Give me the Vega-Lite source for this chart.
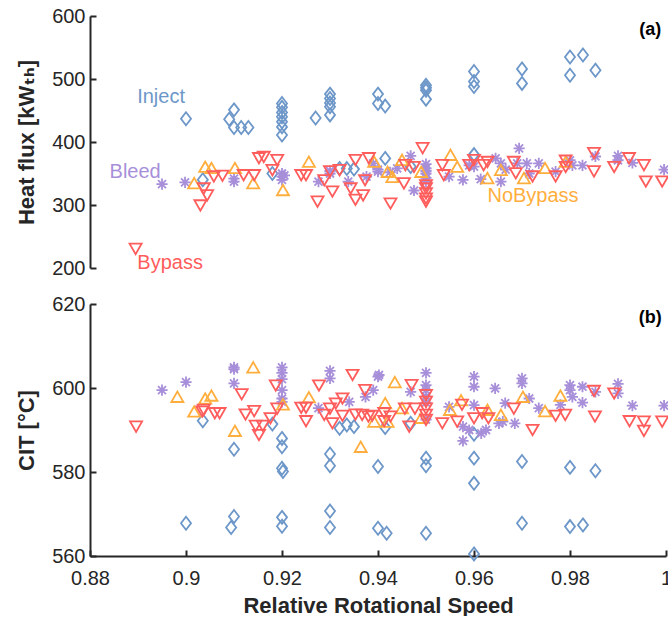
{
  "$schema": "https://vega.github.io/schema/vega-lite/v6.json",
  "background": "white",
  "padding": {"left": 15, "top": 6, "right": 0, "bottom": 0},
  "bounds": "flush",
  "spacing": 36,
  "config": {
    "view": {"stroke": null},
    "font": "Liberation Sans",
    "axis": {
      "grid": false,
      "domainColor": "#262626",
      "domainWidth": 2,
      "tickColor": "#262626",
      "tickWidth": 2,
      "tickSize": -6,
      "labelPadding": 11,
      "labelFlush": false,
      "labelFont": "Liberation Sans",
      "labelFontSize": 20,
      "labelColor": "#262626",
      "titleFont": "Liberation Sans, DejaVu Sans",
      "titleFontSize": 22,
      "titleFontWeight": "bold",
      "titleColor": "#262626"
    }
  },
  "datasets": {
    "hf": [
      {"speed": 0.90, "value": 437, "cfg": "Inject"},
      {"speed": 0.9035, "value": 340, "cfg": "Inject"},
      {"speed": 0.91, "value": 451, "cfg": "Inject"},
      {"speed": 0.909, "value": 436, "cfg": "Inject"},
      {"speed": 0.91, "value": 423, "cfg": "Inject"},
      {"speed": 0.9115, "value": 423, "cfg": "Inject"},
      {"speed": 0.913, "value": 423, "cfg": "Inject"},
      {"speed": 0.918, "value": 350, "cfg": "Inject"},
      {"speed": 0.92, "value": 461, "cfg": "Inject"},
      {"speed": 0.92, "value": 455, "cfg": "Inject"},
      {"speed": 0.92, "value": 447, "cfg": "Inject"},
      {"speed": 0.92, "value": 440, "cfg": "Inject"},
      {"speed": 0.92, "value": 432, "cfg": "Inject"},
      {"speed": 0.92, "value": 424, "cfg": "Inject"},
      {"speed": 0.92, "value": 411, "cfg": "Inject"},
      {"speed": 0.927, "value": 438, "cfg": "Inject"},
      {"speed": 0.93, "value": 476, "cfg": "Inject"},
      {"speed": 0.93, "value": 469, "cfg": "Inject"},
      {"speed": 0.93, "value": 462, "cfg": "Inject"},
      {"speed": 0.93, "value": 456, "cfg": "Inject"},
      {"speed": 0.93, "value": 443, "cfg": "Inject"},
      {"speed": 0.932, "value": 358, "cfg": "Inject"},
      {"speed": 0.9335, "value": 358, "cfg": "Inject"},
      {"speed": 0.935, "value": 357, "cfg": "Inject"},
      {"speed": 0.94, "value": 476, "cfg": "Inject"},
      {"speed": 0.94, "value": 461, "cfg": "Inject"},
      {"speed": 0.9415, "value": 457, "cfg": "Inject"},
      {"speed": 0.9415, "value": 374, "cfg": "Inject"},
      {"speed": 0.9468, "value": 361, "cfg": "Inject"},
      {"speed": 0.95, "value": 490, "cfg": "Inject"},
      {"speed": 0.95, "value": 486, "cfg": "Inject"},
      {"speed": 0.95, "value": 482, "cfg": "Inject"},
      {"speed": 0.95, "value": 468, "cfg": "Inject"},
      {"speed": 0.96, "value": 512, "cfg": "Inject"},
      {"speed": 0.96, "value": 496, "cfg": "Inject"},
      {"speed": 0.96, "value": 488, "cfg": "Inject"},
      {"speed": 0.96, "value": 380, "cfg": "Inject"},
      {"speed": 0.97, "value": 516, "cfg": "Inject"},
      {"speed": 0.97, "value": 493, "cfg": "Inject"},
      {"speed": 0.98, "value": 535, "cfg": "Inject"},
      {"speed": 0.98, "value": 506, "cfg": "Inject"},
      {"speed": 0.9827, "value": 538, "cfg": "Inject"},
      {"speed": 0.9853, "value": 514, "cfg": "Inject"},

      {"speed": 0.895, "value": 333, "cfg": "Bleed"},
      {"speed": 0.8998, "value": 336, "cfg": "Bleed"},
      {"speed": 0.91, "value": 342, "cfg": "Bleed"},
      {"speed": 0.91, "value": 337, "cfg": "Bleed"},
      {"speed": 0.92, "value": 350, "cfg": "Bleed"},
      {"speed": 0.92, "value": 345, "cfg": "Bleed"},
      {"speed": 0.92, "value": 340, "cfg": "Bleed"},
      {"speed": 0.9205, "value": 347, "cfg": "Bleed"},
      {"speed": 0.9276, "value": 337, "cfg": "Bleed"},
      {"speed": 0.93, "value": 350, "cfg": "Bleed"},
      {"speed": 0.93, "value": 354, "cfg": "Bleed"},
      {"speed": 0.9338, "value": 337, "cfg": "Bleed"},
      {"speed": 0.9376, "value": 345, "cfg": "Bleed"},
      {"speed": 0.939, "value": 366, "cfg": "Bleed"},
      {"speed": 0.94, "value": 353, "cfg": "Bleed"},
      {"speed": 0.94, "value": 356, "cfg": "Bleed"},
      {"speed": 0.9425, "value": 352, "cfg": "Bleed"},
      {"speed": 0.944, "value": 358, "cfg": "Bleed"},
      {"speed": 0.9468, "value": 378, "cfg": "Bleed"},
      {"speed": 0.9475, "value": 323, "cfg": "Bleed"},
      {"speed": 0.95, "value": 365, "cfg": "Bleed"},
      {"speed": 0.95, "value": 358, "cfg": "Bleed"},
      {"speed": 0.95, "value": 354, "cfg": "Bleed"},
      {"speed": 0.95, "value": 350, "cfg": "Bleed"},
      {"speed": 0.95, "value": 343, "cfg": "Bleed"},
      {"speed": 0.95, "value": 337, "cfg": "Bleed"},
      {"speed": 0.9548, "value": 345, "cfg": "Bleed"},
      {"speed": 0.9577, "value": 340, "cfg": "Bleed"},
      {"speed": 0.959, "value": 363, "cfg": "Bleed"},
      {"speed": 0.96, "value": 361, "cfg": "Bleed"},
      {"speed": 0.9614, "value": 341, "cfg": "Bleed"},
      {"speed": 0.9645, "value": 374, "cfg": "Bleed"},
      {"speed": 0.9656, "value": 366, "cfg": "Bleed"},
      {"speed": 0.9656, "value": 337, "cfg": "Bleed"},
      {"speed": 0.9666, "value": 356, "cfg": "Bleed"},
      {"speed": 0.9694, "value": 390, "cfg": "Bleed"},
      {"speed": 0.969, "value": 366, "cfg": "Bleed"},
      {"speed": 0.971, "value": 366, "cfg": "Bleed"},
      {"speed": 0.9715, "value": 350, "cfg": "Bleed"},
      {"speed": 0.9735, "value": 366, "cfg": "Bleed"},
      {"speed": 0.977, "value": 353, "cfg": "Bleed"},
      {"speed": 0.98, "value": 371, "cfg": "Bleed"},
      {"speed": 0.9805, "value": 363, "cfg": "Bleed"},
      {"speed": 0.9826, "value": 363, "cfg": "Bleed"},
      {"speed": 0.9853, "value": 377, "cfg": "Bleed"},
      {"speed": 0.99, "value": 378, "cfg": "Bleed"},
      {"speed": 0.99, "value": 371, "cfg": "Bleed"},
      {"speed": 0.993, "value": 367, "cfg": "Bleed"},
      {"speed": 0.9996, "value": 356, "cfg": "Bleed"},

      {"speed": 0.9017, "value": 332, "cfg": "NoBypass"},
      {"speed": 0.904, "value": 358, "cfg": "NoBypass"},
      {"speed": 0.9053, "value": 356, "cfg": "NoBypass"},
      {"speed": 0.9102, "value": 356, "cfg": "NoBypass"},
      {"speed": 0.914, "value": 332, "cfg": "NoBypass"},
      {"speed": 0.9202, "value": 321, "cfg": "NoBypass"},
      {"speed": 0.9256, "value": 366, "cfg": "NoBypass"},
      {"speed": 0.9392, "value": 366, "cfg": "NoBypass"},
      {"speed": 0.942, "value": 350, "cfg": "NoBypass"},
      {"speed": 0.943, "value": 342, "cfg": "NoBypass"},
      {"speed": 0.945, "value": 369, "cfg": "NoBypass"},
      {"speed": 0.949, "value": 350, "cfg": "NoBypass"},
      {"speed": 0.9551, "value": 377, "cfg": "NoBypass"},
      {"speed": 0.9565, "value": 358, "cfg": "NoBypass"},
      {"speed": 0.9628, "value": 340, "cfg": "NoBypass"},
      {"speed": 0.9656, "value": 353, "cfg": "NoBypass"},
      {"speed": 0.9704, "value": 340, "cfg": "NoBypass"},
      {"speed": 0.9748, "value": 356, "cfg": "NoBypass"},
      {"speed": 0.9791, "value": 366, "cfg": "NoBypass"},

      {"speed": 0.8895, "value": 233, "cfg": "Bypass"},
      {"speed": 0.903, "value": 302, "cfg": "Bypass"},
      {"speed": 0.9044, "value": 318, "cfg": "Bypass"},
      {"speed": 0.9037, "value": 329, "cfg": "Bypass"},
      {"speed": 0.9058, "value": 348, "cfg": "Bypass"},
      {"speed": 0.9076, "value": 349, "cfg": "Bypass"},
      {"speed": 0.912, "value": 350, "cfg": "Bypass"},
      {"speed": 0.9142, "value": 350, "cfg": "Bypass"},
      {"speed": 0.9152, "value": 377, "cfg": "Bypass"},
      {"speed": 0.9162, "value": 379, "cfg": "Bypass"},
      {"speed": 0.918, "value": 358, "cfg": "Bypass"},
      {"speed": 0.919, "value": 374, "cfg": "Bypass"},
      {"speed": 0.924, "value": 350, "cfg": "Bypass"},
      {"speed": 0.925, "value": 350, "cfg": "Bypass"},
      {"speed": 0.9274, "value": 308, "cfg": "Bypass"},
      {"speed": 0.9288, "value": 342, "cfg": "Bypass"},
      {"speed": 0.9305, "value": 324, "cfg": "Bypass"},
      {"speed": 0.93, "value": 356, "cfg": "Bypass"},
      {"speed": 0.932, "value": 358, "cfg": "Bypass"},
      {"speed": 0.9343, "value": 329, "cfg": "Bypass"},
      {"speed": 0.9353, "value": 311, "cfg": "Bypass"},
      {"speed": 0.9353, "value": 374, "cfg": "Bypass"},
      {"speed": 0.9369, "value": 318, "cfg": "Bypass"},
      {"speed": 0.9381, "value": 377, "cfg": "Bypass"},
      {"speed": 0.9373, "value": 342, "cfg": "Bypass"},
      {"speed": 0.9426, "value": 305, "cfg": "Bypass"},
      {"speed": 0.9454, "value": 337, "cfg": "Bypass"},
      {"speed": 0.9457, "value": 366, "cfg": "Bypass"},
      {"speed": 0.9475, "value": 363, "cfg": "Bypass"},
      {"speed": 0.9493, "value": 393, "cfg": "Bypass"},
      {"speed": 0.95, "value": 334, "cfg": "Bypass"},
      {"speed": 0.95, "value": 329, "cfg": "Bypass"},
      {"speed": 0.95, "value": 321, "cfg": "Bypass"},
      {"speed": 0.95, "value": 313, "cfg": "Bypass"},
      {"speed": 0.95, "value": 308, "cfg": "Bypass"},
      {"speed": 0.9534, "value": 366, "cfg": "Bypass"},
      {"speed": 0.9537, "value": 350, "cfg": "Bypass"},
      {"speed": 0.959, "value": 366, "cfg": "Bypass"},
      {"speed": 0.96, "value": 374, "cfg": "Bypass"},
      {"speed": 0.962, "value": 366, "cfg": "Bypass"},
      {"speed": 0.9628, "value": 371, "cfg": "Bypass"},
      {"speed": 0.9683, "value": 371, "cfg": "Bypass"},
      {"speed": 0.9687, "value": 353, "cfg": "Bypass"},
      {"speed": 0.9722, "value": 348, "cfg": "Bypass"},
      {"speed": 0.977, "value": 348, "cfg": "Bypass"},
      {"speed": 0.9791, "value": 373, "cfg": "Bypass"},
      {"speed": 0.9791, "value": 363, "cfg": "Bypass"},
      {"speed": 0.985, "value": 385, "cfg": "Bypass"},
      {"speed": 0.985, "value": 356, "cfg": "Bypass"},
      {"speed": 0.9892, "value": 363, "cfg": "Bypass"},
      {"speed": 0.9923, "value": 377, "cfg": "Bypass"},
      {"speed": 0.9954, "value": 366, "cfg": "Bypass"},
      {"speed": 0.9958, "value": 340, "cfg": "Bypass"},
      {"speed": 0.9992, "value": 340, "cfg": "Bypass"}
    ],
    "cit": [
      {"speed": 0.90, "value": 567.8, "cfg": "Inject"},
      {"speed": 0.9035, "value": 592.2, "cfg": "Inject"},
      {"speed": 0.91, "value": 569.4, "cfg": "Inject"},
      {"speed": 0.9094, "value": 566.8, "cfg": "Inject"},
      {"speed": 0.91, "value": 585.4, "cfg": "Inject"},
      {"speed": 0.918, "value": 591.4, "cfg": "Inject"},
      {"speed": 0.92, "value": 588.0, "cfg": "Inject"},
      {"speed": 0.92, "value": 586.0, "cfg": "Inject"},
      {"speed": 0.92, "value": 580.9, "cfg": "Inject"},
      {"speed": 0.9202, "value": 580.1, "cfg": "Inject"},
      {"speed": 0.92, "value": 569.2, "cfg": "Inject"},
      {"speed": 0.92, "value": 567.1, "cfg": "Inject"},
      {"speed": 0.93, "value": 584.3, "cfg": "Inject"},
      {"speed": 0.93, "value": 581.5, "cfg": "Inject"},
      {"speed": 0.93, "value": 570.7, "cfg": "Inject"},
      {"speed": 0.93, "value": 566.8, "cfg": "Inject"},
      {"speed": 0.932, "value": 590.4, "cfg": "Inject"},
      {"speed": 0.9335, "value": 591.2, "cfg": "Inject"},
      {"speed": 0.935, "value": 590.8, "cfg": "Inject"},
      {"speed": 0.94, "value": 581.3, "cfg": "Inject"},
      {"speed": 0.94, "value": 566.6, "cfg": "Inject"},
      {"speed": 0.9418, "value": 565.4, "cfg": "Inject"},
      {"speed": 0.9415, "value": 590.6, "cfg": "Inject"},
      {"speed": 0.9468, "value": 591.6, "cfg": "Inject"},
      {"speed": 0.95, "value": 583.3, "cfg": "Inject"},
      {"speed": 0.95, "value": 581.5, "cfg": "Inject"},
      {"speed": 0.95, "value": 565.4, "cfg": "Inject"},
      {"speed": 0.96, "value": 589.0, "cfg": "Inject"},
      {"speed": 0.96, "value": 583.3, "cfg": "Inject"},
      {"speed": 0.96, "value": 577.3, "cfg": "Inject"},
      {"speed": 0.96, "value": 560.5, "cfg": "Inject"},
      {"speed": 0.97, "value": 582.5, "cfg": "Inject"},
      {"speed": 0.97, "value": 567.8, "cfg": "Inject"},
      {"speed": 0.98, "value": 581.1, "cfg": "Inject"},
      {"speed": 0.98, "value": 567.0, "cfg": "Inject"},
      {"speed": 0.9827, "value": 567.4, "cfg": "Inject"},
      {"speed": 0.9853, "value": 580.3, "cfg": "Inject"},

      {"speed": 0.895, "value": 599.5, "cfg": "Bleed"},
      {"speed": 0.90, "value": 601.4, "cfg": "Bleed"},
      {"speed": 0.91, "value": 604.9, "cfg": "Bleed"},
      {"speed": 0.91, "value": 604.5, "cfg": "Bleed"},
      {"speed": 0.91, "value": 601.1, "cfg": "Bleed"},
      {"speed": 0.92, "value": 604.9, "cfg": "Bleed"},
      {"speed": 0.92, "value": 603.6, "cfg": "Bleed"},
      {"speed": 0.92, "value": 602.1, "cfg": "Bleed"},
      {"speed": 0.92, "value": 599.5, "cfg": "Bleed"},
      {"speed": 0.92, "value": 597.5, "cfg": "Bleed"},
      {"speed": 0.92, "value": 596.7, "cfg": "Bleed"},
      {"speed": 0.9276, "value": 595.2, "cfg": "Bleed"},
      {"speed": 0.93, "value": 604.1, "cfg": "Bleed"},
      {"speed": 0.93, "value": 602.3, "cfg": "Bleed"},
      {"speed": 0.934, "value": 596.7, "cfg": "Bleed"},
      {"speed": 0.9374, "value": 597.9, "cfg": "Bleed"},
      {"speed": 0.939, "value": 599.5, "cfg": "Bleed"},
      {"speed": 0.94, "value": 602.7, "cfg": "Bleed"},
      {"speed": 0.9402, "value": 603.1, "cfg": "Bleed"},
      {"speed": 0.9468, "value": 599.1, "cfg": "Bleed"},
      {"speed": 0.95, "value": 603.6, "cfg": "Bleed"},
      {"speed": 0.95, "value": 600.7, "cfg": "Bleed"},
      {"speed": 0.95, "value": 599.5, "cfg": "Bleed"},
      {"speed": 0.95, "value": 598.0, "cfg": "Bleed"},
      {"speed": 0.95, "value": 596.5, "cfg": "Bleed"},
      {"speed": 0.95, "value": 592.5, "cfg": "Bleed"},
      {"speed": 0.9548, "value": 595.5, "cfg": "Bleed"},
      {"speed": 0.9577, "value": 590.8, "cfg": "Bleed"},
      {"speed": 0.9577, "value": 587.4, "cfg": "Bleed"},
      {"speed": 0.959, "value": 590.0, "cfg": "Bleed"},
      {"speed": 0.96, "value": 602.7, "cfg": "Bleed"},
      {"speed": 0.96, "value": 600.3, "cfg": "Bleed"},
      {"speed": 0.96, "value": 595.9, "cfg": "Bleed"},
      {"speed": 0.9615, "value": 589.2, "cfg": "Bleed"},
      {"speed": 0.9625, "value": 590.0, "cfg": "Bleed"},
      {"speed": 0.9644, "value": 599.9, "cfg": "Bleed"},
      {"speed": 0.9652, "value": 591.6, "cfg": "Bleed"},
      {"speed": 0.966, "value": 592.0, "cfg": "Bleed"},
      {"speed": 0.9665, "value": 596.4, "cfg": "Bleed"},
      {"speed": 0.9685, "value": 591.6, "cfg": "Bleed"},
      {"speed": 0.97, "value": 602.3, "cfg": "Bleed"},
      {"speed": 0.97, "value": 601.1, "cfg": "Bleed"},
      {"speed": 0.9715, "value": 597.5, "cfg": "Bleed"},
      {"speed": 0.9735, "value": 595.2, "cfg": "Bleed"},
      {"speed": 0.978, "value": 596.0, "cfg": "Bleed"},
      {"speed": 0.98, "value": 600.7, "cfg": "Bleed"},
      {"speed": 0.98, "value": 599.5, "cfg": "Bleed"},
      {"speed": 0.9805, "value": 597.9, "cfg": "Bleed"},
      {"speed": 0.9826, "value": 600.3, "cfg": "Bleed"},
      {"speed": 0.9826, "value": 596.5, "cfg": "Bleed"},
      {"speed": 0.9853, "value": 599.1, "cfg": "Bleed"},
      {"speed": 0.99, "value": 601.0, "cfg": "Bleed"},
      {"speed": 0.99, "value": 598.7, "cfg": "Bleed"},
      {"speed": 0.993, "value": 595.8, "cfg": "Bleed"},
      {"speed": 0.9996, "value": 595.8, "cfg": "Bleed"},

      {"speed": 0.8982, "value": 597.5, "cfg": "NoBypass"},
      {"speed": 0.9017, "value": 594.0, "cfg": "NoBypass"},
      {"speed": 0.904, "value": 597.1, "cfg": "NoBypass"},
      {"speed": 0.9053, "value": 597.8, "cfg": "NoBypass"},
      {"speed": 0.9102, "value": 589.4, "cfg": "NoBypass"},
      {"speed": 0.914, "value": 604.5, "cfg": "NoBypass"},
      {"speed": 0.9202, "value": 595.7, "cfg": "NoBypass"},
      {"speed": 0.9256, "value": 597.4, "cfg": "NoBypass"},
      {"speed": 0.9364, "value": 585.6, "cfg": "NoBypass"},
      {"speed": 0.9392, "value": 591.6, "cfg": "NoBypass"},
      {"speed": 0.942, "value": 591.6, "cfg": "NoBypass"},
      {"speed": 0.9415, "value": 596.0, "cfg": "NoBypass"},
      {"speed": 0.9435, "value": 601.0, "cfg": "NoBypass"},
      {"speed": 0.945, "value": 594.8, "cfg": "NoBypass"},
      {"speed": 0.949, "value": 592.5, "cfg": "NoBypass"},
      {"speed": 0.955, "value": 594.4, "cfg": "NoBypass"},
      {"speed": 0.9573, "value": 596.7, "cfg": "NoBypass"},
      {"speed": 0.9628, "value": 594.4, "cfg": "NoBypass"},
      {"speed": 0.9656, "value": 593.2, "cfg": "NoBypass"},
      {"speed": 0.9702, "value": 597.5, "cfg": "NoBypass"},
      {"speed": 0.9748, "value": 594.1, "cfg": "NoBypass"},
      {"speed": 0.978, "value": 597.8, "cfg": "NoBypass"},

      {"speed": 0.8896, "value": 591.2, "cfg": "Bypass"},
      {"speed": 0.9034, "value": 594.8, "cfg": "Bypass"},
      {"speed": 0.9037, "value": 595.2, "cfg": "Bypass"},
      {"speed": 0.906, "value": 594.4, "cfg": "Bypass"},
      {"speed": 0.907, "value": 594.4, "cfg": "Bypass"},
      {"speed": 0.9116, "value": 598.9, "cfg": "Bypass"},
      {"speed": 0.9124, "value": 594.1, "cfg": "Bypass"},
      {"speed": 0.9142, "value": 594.9, "cfg": "Bypass"},
      {"speed": 0.9145, "value": 591.4, "cfg": "Bypass"},
      {"speed": 0.9152, "value": 589.2, "cfg": "Bypass"},
      {"speed": 0.916, "value": 591.4, "cfg": "Bypass"},
      {"speed": 0.9176, "value": 593.2, "cfg": "Bypass"},
      {"speed": 0.9187, "value": 601.0, "cfg": "Bypass"},
      {"speed": 0.919, "value": 595.5, "cfg": "Bypass"},
      {"speed": 0.924, "value": 595.7, "cfg": "Bypass"},
      {"speed": 0.925, "value": 595.7, "cfg": "Bypass"},
      {"speed": 0.925, "value": 592.5, "cfg": "Bypass"},
      {"speed": 0.9277, "value": 601.0, "cfg": "Bypass"},
      {"speed": 0.9288, "value": 594.0, "cfg": "Bypass"},
      {"speed": 0.93, "value": 595.5, "cfg": "Bypass"},
      {"speed": 0.9305, "value": 592.0, "cfg": "Bypass"},
      {"speed": 0.9312, "value": 596.7, "cfg": "Bypass"},
      {"speed": 0.9326, "value": 597.9, "cfg": "Bypass"},
      {"speed": 0.9347, "value": 603.5, "cfg": "Bypass"},
      {"speed": 0.9326, "value": 593.8, "cfg": "Bypass"},
      {"speed": 0.9353, "value": 594.1, "cfg": "Bypass"},
      {"speed": 0.9367, "value": 594.0, "cfg": "Bypass"},
      {"speed": 0.938, "value": 593.6, "cfg": "Bypass"},
      {"speed": 0.9373, "value": 599.9, "cfg": "Bypass"},
      {"speed": 0.9388, "value": 593.8, "cfg": "Bypass"},
      {"speed": 0.9413, "value": 594.4, "cfg": "Bypass"},
      {"speed": 0.9426, "value": 593.6, "cfg": "Bypass"},
      {"speed": 0.9413, "value": 592.5, "cfg": "Bypass"},
      {"speed": 0.9456, "value": 595.5, "cfg": "Bypass"},
      {"speed": 0.9465, "value": 591.2, "cfg": "Bypass"},
      {"speed": 0.947, "value": 601.1, "cfg": "Bypass"},
      {"speed": 0.9477, "value": 595.5, "cfg": "Bypass"},
      {"speed": 0.95, "value": 598.7, "cfg": "Bypass"},
      {"speed": 0.95, "value": 597.1, "cfg": "Bypass"},
      {"speed": 0.95, "value": 595.5, "cfg": "Bypass"},
      {"speed": 0.95, "value": 594.0, "cfg": "Bypass"},
      {"speed": 0.95, "value": 592.8, "cfg": "Bypass"},
      {"speed": 0.9534, "value": 592.0, "cfg": "Bypass"},
      {"speed": 0.9565, "value": 592.4, "cfg": "Bypass"},
      {"speed": 0.9575, "value": 596.4, "cfg": "Bypass"},
      {"speed": 0.96, "value": 593.2, "cfg": "Bypass"},
      {"speed": 0.9617, "value": 594.4, "cfg": "Bypass"},
      {"speed": 0.963, "value": 593.2, "cfg": "Bypass"},
      {"speed": 0.9683, "value": 595.5, "cfg": "Bypass"},
      {"speed": 0.9722, "value": 590.4, "cfg": "Bypass"},
      {"speed": 0.977, "value": 593.8, "cfg": "Bypass"},
      {"speed": 0.979, "value": 594.0, "cfg": "Bypass"},
      {"speed": 0.985, "value": 599.7, "cfg": "Bypass"},
      {"speed": 0.9852, "value": 593.6, "cfg": "Bypass"},
      {"speed": 0.9892, "value": 599.1, "cfg": "Bypass"},
      {"speed": 0.9924, "value": 592.5, "cfg": "Bypass"},
      {"speed": 0.9954, "value": 592.4, "cfg": "Bypass"},
      {"speed": 0.9954, "value": 590.2, "cfg": "Bypass"},
      {"speed": 0.9992, "value": 592.4, "cfg": "Bypass"}
    ],
    "labels": [
      {"speed": 0.8948, "value": 471, "cfg": "Inject", "label": "Inject"},
      {"speed": 0.8894, "value": 352, "cfg": "Bleed", "label": "Bleed"},
      {"speed": 0.9723, "value": 314, "cfg": "NoBypass", "label": "NoBypass"},
      {"speed": 0.8967, "value": 208, "cfg": "Bypass", "label": "Bypass"}
    ]
  },
  "vconcat": [
    {
      "width": 576,
      "height": 252,
      "layer": [
        {
          "data": {"name": "hf"},
          "mark": {"type": "point", "filled": false, "strokeWidth": 1.8, "size": 196, "opacity": 1},
          "encoding": {
            "x": {"field": "speed", "type": "quantitative", "scale": {"domain": [0.88, 1.0], "nice": false, "zero": false}, "axis": null},
            "y": {"field": "value", "type": "quantitative", "scale": {"domain": [200, 600], "nice": false, "zero": false}, "axis": {"title": "Heat flux [kWₜₕ]", "values": [200, 300, 400, 500, 600], "titlePadding": 13}},
            "color": {"field": "cfg", "type": "nominal", "scale": {"domain": ["Inject", "Bleed", "NoBypass", "Bypass"], "range": ["#6d97c9", "#a88fd9", "#ffae3d", "#ff5c5c"]}, "legend": null},
            "shape": {"field": "cfg", "type": "nominal", "scale": {"domain": ["Inject", "Bleed", "NoBypass", "Bypass"], "range": ["M0,-0.93L0.72,0L0,0.93L-0.72,0Z", "M-0.8,0L0.8,0M0,-0.8L0,0.8M-0.57,-0.57L0.57,0.57M-0.57,0.57L0.57,-0.57", "M-0.86,0.5L0.86,0.5L0,-0.99Z", "M-0.86,-0.5L0.86,-0.5L0,0.99Z"]}, "legend": null}
          }
        },
        {
          "data": {"name": "labels"},
          "mark": {"type": "text", "fontSize": 20, "font": "Liberation Sans", "align": "center", "baseline": "middle"},
          "encoding": {
            "x": {"field": "speed", "type": "quantitative"},
            "y": {"field": "value", "type": "quantitative"},
            "text": {"field": "label"},
            "color": {"field": "cfg", "type": "nominal", "legend": null}
          }
        },
        {
          "data": {"values": [{"speed": 0.9967, "value": 578, "label": "(a)"}]},
          "mark": {"type": "text", "fontSize": 18, "fontWeight": "bold", "font": "Liberation Sans", "align": "center", "baseline": "middle", "color": "#000000"},
          "encoding": {
            "x": {"field": "speed", "type": "quantitative"},
            "y": {"field": "value", "type": "quantitative"},
            "text": {"field": "label"}
          }
        }
      ]
    },
    {
      "width": 576,
      "height": 252,
      "layer": [
        {
          "data": {"name": "cit"},
          "mark": {"type": "point", "filled": false, "strokeWidth": 1.8, "size": 196, "opacity": 1},
          "encoding": {
            "x": {"field": "speed", "type": "quantitative", "scale": {"domain": [0.88, 1.0], "nice": false, "zero": false}, "axis": {"title": "Relative Rotational Speed", "values": [0.88, 0.9, 0.92, 0.94, 0.96, 0.98, 1.0], "format": "~g", "labelPadding": 18, "titlePadding": 7}},
            "y": {"field": "value", "type": "quantitative", "scale": {"domain": [560, 620], "nice": false, "zero": false}, "axis": {"title": "CIT [°C]", "values": [560, 580, 600, 620], "titlePadding": 13}},
            "color": {"field": "cfg", "type": "nominal", "scale": {"domain": ["Inject", "Bleed", "NoBypass", "Bypass"], "range": ["#6d97c9", "#a88fd9", "#ffae3d", "#ff5c5c"]}, "legend": null},
            "shape": {"field": "cfg", "type": "nominal", "scale": {"domain": ["Inject", "Bleed", "NoBypass", "Bypass"], "range": ["M0,-0.93L0.72,0L0,0.93L-0.72,0Z", "M-0.8,0L0.8,0M0,-0.8L0,0.8M-0.57,-0.57L0.57,0.57M-0.57,0.57L0.57,-0.57", "M-0.86,0.5L0.86,0.5L0,-0.99Z", "M-0.86,-0.5L0.86,-0.5L0,0.99Z"]}, "legend": null}
          }
        },
        {
          "data": {"values": [{"speed": 0.9967, "value": 616.7, "label": "(b)"}]},
          "mark": {"type": "text", "fontSize": 18, "fontWeight": "bold", "font": "Liberation Sans", "align": "center", "baseline": "middle", "color": "#000000"},
          "encoding": {
            "x": {"field": "speed", "type": "quantitative"},
            "y": {"field": "value", "type": "quantitative"},
            "text": {"field": "label"}
          }
        }
      ]
    }
  ]
}
